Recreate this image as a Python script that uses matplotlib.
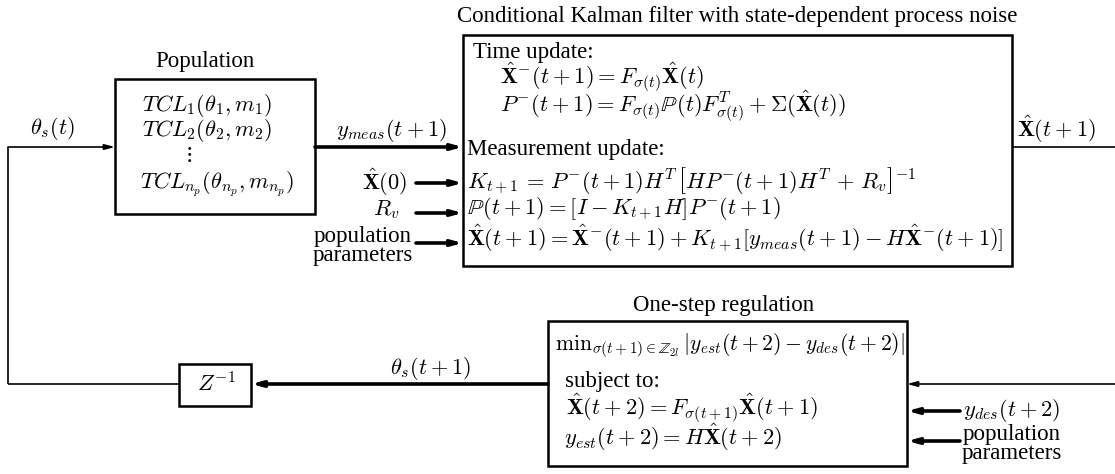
import matplotlib
matplotlib.use("Agg")
import matplotlib.pyplot as plt
from matplotlib.patches import Rectangle

plt.rcParams['font.family'] = ['Liberation Serif', 'DejaVu Serif']
plt.rcParams['mathtext.fontset'] = 'cm'

# ---- text content ----
block_titles = ["Population",
                "Conditional Kalman filter with state-dependent process noise",
                "One-step regulation"]
population_lines = [r"$TCL_1(\theta_1, m_1)$",
                    r"$TCL_2(\theta_2, m_2)$",
                    r"$\vdots$",
                    r"$TCL_{n_p}(\theta_{n_p}, m_{n_p})$"]
kalman_headers = ["Time update:", "Measurement update:"]
time_update_lines = [r"$\hat{\mathbf{X}}^{-}(t+1) = F_{\sigma(t)}\hat{\mathbf{X}}(t)$",
                     r"$P^{-}(t+1) = F_{\sigma(t)}\mathbb{P}(t)F^{T}_{\sigma(t)} + \Sigma(\hat{\mathbf{X}}(t))$"]
meas_update_lines = [r"$K_{t+1}\,=\,P^{-}(t+1)H^{T}\,\left[HP^{-}(t+1)H^{T}\,+\,R_v\right]^{-1}$",
                     r"$\mathbb{P}(t+1) = [I - K_{t+1}H]P^{-}(t+1)$",
                     r"$\hat{\mathbf{X}}(t+1) = \hat{\mathbf{X}}^{-}(t+1) + K_{t+1}[y_{meas}(t+1) - H\hat{\mathbf{X}}^{-}(t+1)]$"]
kalman_inputs = [r"$\hat{\mathbf{X}}(0)$", r"$R_v$", "population\nparameters"]
regulation_lines = [r"$\mathrm{min}_{\sigma(t+1)\in\mathbb{Z}_{2l}}\,|y_{est}(t+2) - y_{des}(t+2)|$",
                    "subject to:",
                    r"$\hat{\mathbf{X}}(t+2) = F_{\sigma(t+1)}\hat{\mathbf{X}}(t+1)$",
                    r"$y_{est}(t+2) = H\hat{\mathbf{X}}(t+2)$"]
regulation_inputs = [r"$y_{des}(t+2)$", "population\nparameters"]
signal_labels = [r"$\theta_s(t)$", r"$y_{meas}(t+1)$", r"$\hat{\mathbf{X}}(t+1)$",
                 r"$\theta_s(t+1)$", r"$Z^{-1}$"]

FS = 16.5
MS = 16.2
THIN = 1.2
THICK = 2.6

fig = plt.figure(figsize=(11.15, 4.74), dpi=100)
ax = fig.add_axes([0, 0, 1, 1])
ax.set_xlim(0, 1115)
ax.set_ylim(474, 0)
ax.axis('off')


def box(x0, y0, x1, y1):
    ax.add_patch(Rectangle((x0, y0), x1 - x0, y1 - y0, fill=False,
                           lw=1.8, ec='black', zorder=3))


def arrow(x0, y0, x1, y1, lw):
    ax.annotate('', xy=(x1, y1), xytext=(x0, y0),
                arrowprops=dict(arrowstyle='-|>,head_length=0.6,head_width=0.16',
                                lw=lw, color='black', shrinkA=0, shrinkB=0))


def line(xs, ys, lw):
    ax.plot(xs, ys, color='black', lw=lw, solid_capstyle='butt',
            solid_joinstyle='miter')


def txt(x, y, s, ha='left', va='center', size=None):
    if size is None:
        size = MS if s.startswith('$') else FS
    ax.text(x, y, s, ha=ha, va=va, fontsize=size, color='black')


# ---- Population block ----
txt(205, 61, block_titles[0], ha='center')
box(115, 79, 315, 214)
pop_y = [105, 130, 156, 184]
pop_x = [142, 142, 188, 140]
for s, x, y in zip(population_lines, pop_x, pop_y):
    txt(x, y, s, ha='center' if s == r"$\vdots$" else 'left')

# theta_s(t) input and feedback loop
line([8, 8], [384, 147], THIN)
arrow(8, 147, 115, 147, THIN)
txt(52, 129, signal_labels[0], ha='center')

# y_meas arrow
arrow(315, 147, 463, 147, THICK)
txt(392, 131, signal_labels[1], ha='center')

# ---- Kalman block ----
txt(737, 16, block_titles[1], ha='center')
box(463, 35, 1012, 266)
txt(473, 52, kalman_headers[0])
txt(500, 77, time_update_lines[0])
txt(500, 106, time_update_lines[1])
txt(467, 150, kalman_headers[1])
for s, y in zip(meas_update_lines, [180, 209, 238]):
    txt(467, y, s)

# Kalman inputs
in_y = [183, 213, 243]
for y in in_y:
    arrow(416, y, 463, y, THICK)
txt(407, 182, kalman_inputs[0], ha='right')
txt(386, 210, kalman_inputs[1], ha='center')
ax.text(363, 246, kalman_inputs[2], ha='center', va='center', fontsize=FS,
        linespacing=0.9)

# Kalman output
line([1012, 1115], [147, 147], THIN)
txt(1017, 129, signal_labels[2])

# ---- Regulation block ----
txt(724, 305, block_titles[2], ha='center')
box(548, 321, 907, 466)
txt(555, 346, regulation_lines[0], size=15.6)
txt(565, 381, regulation_lines[1])
txt(566, 408, regulation_lines[2])
txt(564, 437, regulation_lines[3])

# right side inputs
arrow(1115, 384, 907, 384, THIN)
arrow(960, 411, 907, 411, THICK)
arrow(960, 441, 907, 441, THICK)
txt(963, 410, regulation_inputs[0])
ax.text(1012, 444, regulation_inputs[1], ha='center', va='center', fontsize=FS,
        linespacing=0.9)

# ---- Z^-1 block and feedback ----
box(179, 364, 251, 406)
txt(216, 384, signal_labels[4], ha='center')
arrow(548, 384, 251, 384, THICK)
txt(431, 368, signal_labels[3], ha='center')
line([8, 179], [384, 384], THIN)

fig.savefig('out.png', dpi=100)
